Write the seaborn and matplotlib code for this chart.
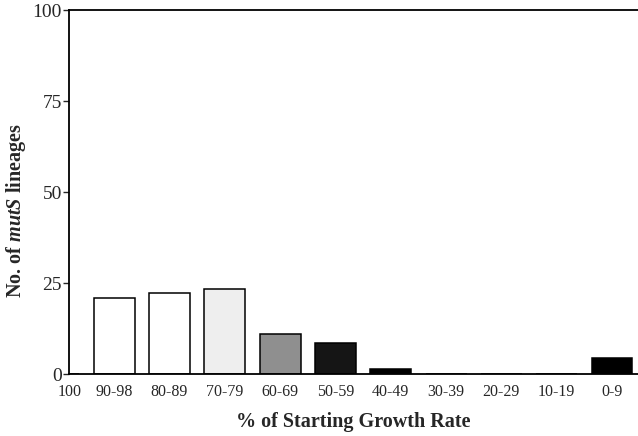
import seaborn as sns
import matplotlib.pyplot as plt

# data ------------------------------------------------------
categories = ["100", "90-98", "80-89", "70-79", "60-69", "50-59",
              "40-49", "30-39", "20-29", "10-19", "0-9"]
lineages = [0, 21, 22.3, 23.5, 11, 8.5, 1.5, 0, 0, 0, 4.4]
fills = ["white", "white", "white", "#eeeeee", "#8f8f8f", "#151515",
         "black", "black", "black", "black", "black"]

sns.set_style("ticks")
plt.rcParams["font.family"] = ["Liberation Serif", "DejaVu Serif"]
plt.rcParams["mathtext.fontset"] = "custom"
plt.rcParams["mathtext.it"] = "Liberation Serif:italic:bold"

fig = plt.figure(figsize=(6.38, 4.36), dpi=100)
ax = fig.add_axes([0.108, 0.142, 0.892, 0.835])

sns.barplot(x=categories, y=lineages, hue=categories, palette=fills,
            legend=False, width=0.74, edgecolor="black", linewidth=1.1,
            saturation=1, ax=ax)

ax.set_ylim(0, 100)
ax.set_xlim(0.18, 10.47)
ax.set_yticks([0, 25, 50, 75, 100])
# the "100" label sits against the axis in the original
ax.set_xticks([0.2] + list(range(1, len(categories))))
ax.set_xticklabels(categories)
ax.tick_params(axis="y", labelsize=14, length=4, width=1, pad=1,
               direction="out")
ax.tick_params(axis="x", labelsize=11.5, length=0, pad=7)
for s in ["left", "bottom", "top"]:
    ax.spines[s].set_linewidth(1.3)
    ax.spines[s].set_color("black")
ax.spines["right"].set_visible(False)

ax.set_ylabel(r"No. of $\mathit{mutS}$ lineages", fontsize=14.5,
              fontweight="bold")
ax.yaxis.set_label_coords(-0.071, 0.45)
ax.set_xlabel("% of Starting Growth Rate", fontsize=14.5,
              fontweight="bold", labelpad=9)

fig.savefig("out.png", dpi=100)
